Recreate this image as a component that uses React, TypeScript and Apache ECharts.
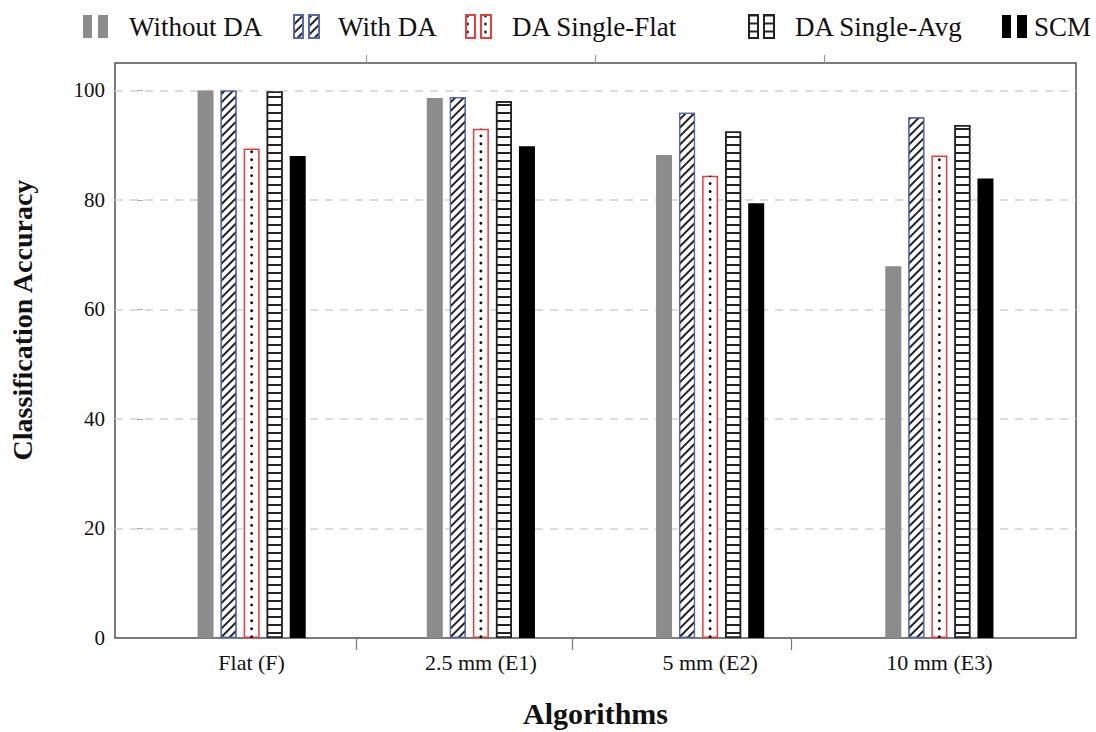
import React, { useEffect, useRef } from 'react';
import * as echarts from 'echarts';

const categories = ['Flat (F)', '2.5 mm (E1)', '5 mm (E2)', '10 mm (E3)'];
const seriesNames = ['Without DA', 'With DA', 'DA Single-Flat', 'DA Single-Avg', 'SCM'];
const withoutDA = [100, 98.6, 88.2, 67.9];
const withDA = [100, 98.8, 95.9, 95.1];
const singleFlat = [89.4, 93.0, 84.4, 88.1];
const singleAvg = [99.8, 98.0, 92.5, 93.7];
const scm = [88.0, 89.8, 79.4, 83.9];
const yTicks = [0, 20, 40, 60, 80, 100];
const topTickPos = [1, 2, 3];
const bottomTickPos = [0.955, 1.898, 2.853];

const FONT = '"Liberation Serif", "DejaVu Serif", serif';

export default function App() {
  const ref = useRef<HTMLDivElement>(null);
  useEffect(() => {
    if (!ref.current) return;
    const chart = echarts.init(ref.current, null, { renderer: 'svg' });
    const icon = 'path://M0,0H9V23H0Z M15,0H25V23H15Z';
    const legendLefts = [78, 288, 460, 743, 997];
    const legendPad = [16, 14, 16, 16, 2];
    const hatch = { symbol: 'rect', symbolSize: 1, color: '#222', dashArrayX: [1, 0], dashArrayY: [1.2, 3.3], rotation: -Math.PI / 4 };
    const lines = { symbol: 'rect', symbolSize: 1, color: '#222', dashArrayX: [1, 0], dashArrayY: [1.2, 5.8], rotation: 0 };
    const dotsDecal = { symbol: 'circle', symbolSize: 0.9, color: '#000', dashArrayX: [3, 6], dashArrayY: [3, 5], rotation: 0 };
    const styles: any[] = [
      { color: '#8c8c8c' },
      { color: '#fff', borderColor: '#5866b8', borderWidth: 1.2, decal: hatch },
      { color: '#fff', borderColor: '#ee3b3b', borderWidth: 1.5 },
      { color: '#fff', borderColor: '#222', borderWidth: 1.5, decal: lines },
      { color: '#000' },
    ];
    const values = [withoutDA, withDA, singleFlat, singleAvg, scm];
    const option: any = {
      animation: false,
      backgroundColor: '#fff',
      textStyle: { fontFamily: FONT },
      legend: seriesNames.map((n, i) => ({
        data: [i === 2 ? { name: n, itemStyle: { decal: dotsDecal } } : n],
        left: legendLefts[i],
        top: 8,
        itemWidth: 25,
        itemHeight: 24,
        icon,
        selectedMode: false,
        textStyle: { fontFamily: FONT, fontSize: 27, color: '#111', padding: [0, 0, 0, legendPad[i]] },
      })),
      grid: [
        { left: 115, right: 20, top: 63, bottom: 94, outerBoundsMode: 'none', containLabel: false, show: true, borderColor: '#505050', borderWidth: 1.5, backgroundColor: 'transparent' },
        { left: 137, right: 42, top: 63, bottom: 94, outerBoundsMode: 'none', containLabel: false },
      ],
      xAxis: [
        {
          type: 'value', gridIndex: 0, min: -0.096, max: 4.097, position: 'bottom',
          axisLine: { show: false },
          axisTick: { show: true, customValues: bottomTickPos, length: 12, lineStyle: { color: '#777', width: 1.2 } },
          axisLabel: { show: false }, splitLine: { show: false },
          name: 'Algorithms', nameLocation: 'middle', nameGap: 60,
          nameTextStyle: { fontFamily: FONT, fontSize: 30, fontWeight: 'bold', color: '#111' },
        },
        {
          type: 'value', gridIndex: 0, min: -0.096, max: 4.097, position: 'top',
          axisLine: { show: false },
          axisTick: { show: true, customValues: topTickPos, length: 8, lineStyle: { color: '#999', width: 1.2 } },
          axisLabel: { show: false }, splitLine: { show: false },
        },
        {
          type: 'category', gridIndex: 1, data: categories,
          axisLine: { show: false }, axisTick: { show: false },
          axisLabel: { fontFamily: FONT, fontSize: 22, color: '#111', margin: 13 },
        },
      ],
      yAxis: [
        {
          type: 'value', gridIndex: 0, min: 0, max: 105,
          axisLine: { show: false },
          axisTick: { show: true, inside: true, length: 6, customValues: yTicks.slice(1), lineStyle: { color: '#aaa' } },
          axisLabel: { customValues: yTicks, fontFamily: FONT, fontSize: 21, color: '#111', margin: 10 },
          splitLine: { show: true, lineStyle: { color: '#d2d2d2', width: 1.5, type: [8, 7] } },
        },
        { type: 'value', gridIndex: 1, min: 0, max: 105, show: false },
      ],
      graphic: [
        {
          type: 'text', x: 22, y: 320, rotation: Math.PI / 2,
          style: {
            text: 'Classification Accuracy', font: `bold 28px ${FONT}`, fill: '#111',
            textAlign: 'center', align: 'center', textVerticalAlign: 'middle', verticalAlign: 'middle',
          },
        },
      ],
      series: [
        ...seriesNames.map((n, i) => ({
          name: n, type: 'bar', xAxisIndex: 2, yAxisIndex: 1, data: values[i],
          barWidth: 16, barGap: '44%', itemStyle: styles[i], z: 3,
        })),
        {
          name: 'dots', type: 'pictorialBar', xAxisIndex: 2, yAxisIndex: 1, data: singleFlat,
          symbol: 'circle', symbolSize: [2.6, 2.6], symbolRepeat: true, symbolMargin: 2.7,
          symbolRepeatDirection: 'end', symbolClip: true,
          itemStyle: { color: '#000' }, z: 5, silent: true,
        },
      ],
    };
    chart.setOption(option);
    return () => chart.dispose();
  }, []);
  return <div ref={ref} style={{ position: 'fixed', left: 0, top: 0, width: 1096, height: 732 }} />;
}
